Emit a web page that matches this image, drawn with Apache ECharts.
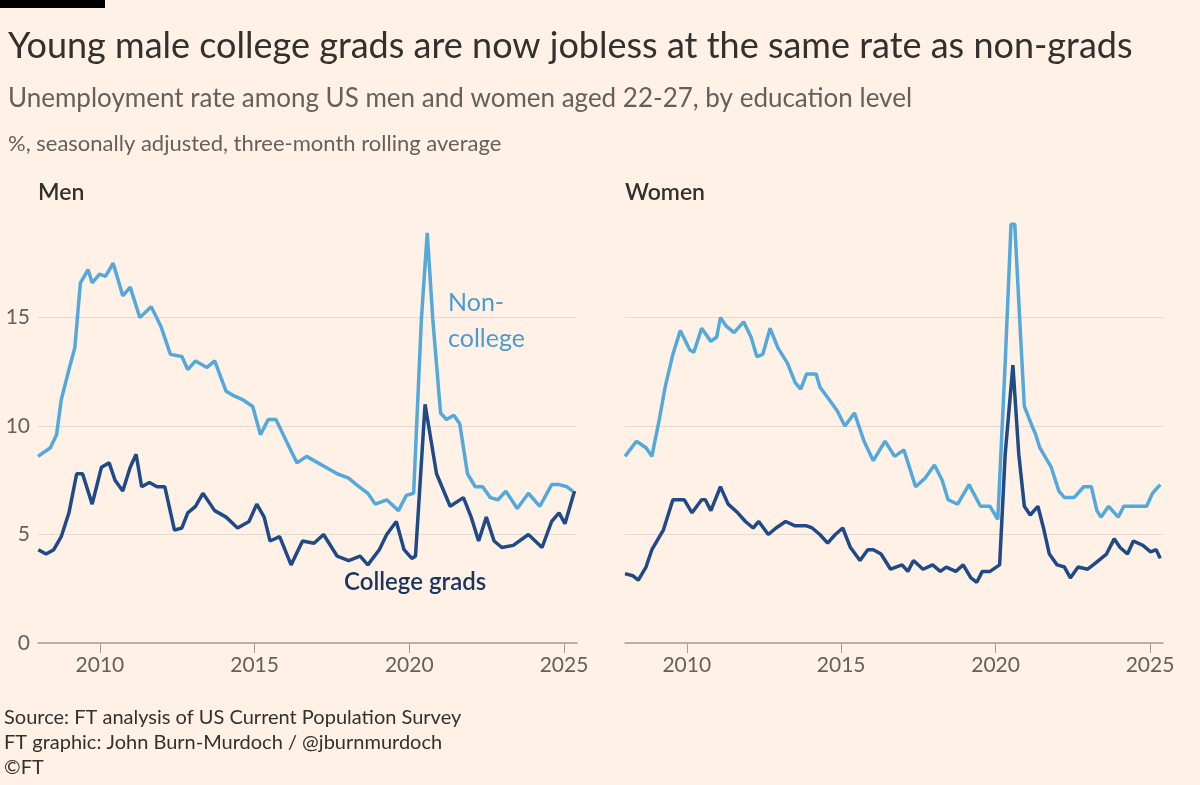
<!DOCTYPE html>
<html style="height: 100%">
<head>
    <meta charset="utf-8">
    <title>Young male college grads</title>
</head>
<body style="height: 100%; margin: 0; background: #fff1e5">
<div id="container" style="width: 1200px; height: 785px"></div>
<script type="text/javascript" src="https://cdn.jsdelivr.net/npm/echarts@6/dist/echarts.min.js"></script>
<script type="text/javascript">
    var myChart = echarts.init(document.getElementById('container'));

    // [decimal year, unemployment %]
    var menNonCollege = [[2008.0,8.6],[2008.4,9.0],[2008.6,9.6],[2008.75,11.2],[2009.0,12.6],[2009.19,13.6],[2009.37,16.6],[2009.62,17.2],[2009.75,16.6],[2009.99,17.0],[2010.18,16.9],[2010.43,17.5],[2010.74,16.0],[2010.98,16.4],[2011.29,15.0],[2011.66,15.5],[2011.97,14.6],[2012.28,13.3],[2012.65,13.2],[2012.84,12.6],[2013.09,13.0],[2013.46,12.7],[2013.71,13.0],[2014.08,11.6],[2014.32,11.4],[2014.63,11.2],[2014.94,10.9],[2015.19,9.6],[2015.44,10.3],[2015.69,10.3],[2016.06,9.2],[2016.37,8.3],[2016.68,8.6],[2017.05,8.3],[2017.3,8.1],[2017.67,7.8],[2018.04,7.6],[2018.29,7.3],[2018.66,6.9],[2018.9,6.4],[2019.27,6.6],[2019.65,6.1],[2019.9,6.8],[2020.14,6.9],[2020.39,14.9],[2020.58,18.9],[2020.76,14.9],[2021.01,10.6],[2021.2,10.3],[2021.44,10.5],[2021.63,10.1],[2021.88,7.8],[2022.13,7.2],[2022.37,7.2],[2022.62,6.7],[2022.87,6.6],[2023.12,7.0],[2023.49,6.2],[2023.85,6.9],[2024.22,6.3],[2024.6,7.3],[2024.85,7.3],[2025.1,7.2],[2025.28,7.0]];
    var menCollege = [[2008.01,4.3],[2008.26,4.1],[2008.51,4.3],[2008.75,4.9],[2009.0,6.0],[2009.25,7.8],[2009.44,7.8],[2009.75,6.4],[2010.05,8.1],[2010.3,8.3],[2010.49,7.5],[2010.74,7.0],[2010.98,8.1],[2011.17,8.7],[2011.35,7.2],[2011.6,7.4],[2011.85,7.2],[2012.1,7.2],[2012.41,5.2],[2012.65,5.3],[2012.84,6.0],[2013.09,6.3],[2013.33,6.9],[2013.71,6.1],[2014.08,5.8],[2014.45,5.3],[2014.82,5.6],[2015.07,6.4],[2015.31,5.8],[2015.5,4.7],[2015.81,4.9],[2016.18,3.6],[2016.55,4.7],[2016.92,4.6],[2017.23,5.0],[2017.67,4.0],[2018.04,3.8],[2018.41,4.0],[2018.66,3.6],[2019.03,4.3],[2019.27,5.0],[2019.58,5.6],[2019.83,4.3],[2020.08,3.9],[2020.2,4.0],[2020.51,11.0],[2020.88,7.8],[2021.32,6.3],[2021.75,6.7],[2022.0,5.8],[2022.24,4.7],[2022.49,5.8],[2022.74,4.7],[2022.99,4.4],[2023.36,4.5],[2023.85,5.0],[2024.29,4.4],[2024.6,5.6],[2024.84,6.0],[2025.03,5.5],[2025.34,7.0]];
    var womenNonCollege = [[2008.0,8.6],[2008.37,9.3],[2008.68,9.0],[2008.87,8.6],[2009.11,10.3],[2009.3,11.8],[2009.55,13.3],[2009.79,14.4],[2010.1,13.5],[2010.23,13.4],[2010.48,14.5],[2010.78,13.9],[2010.97,14.1],[2011.09,15.0],[2011.28,14.6],[2011.53,14.3],[2011.84,14.8],[2012.08,14.1],[2012.27,13.2],[2012.46,13.3],[2012.7,14.5],[2012.95,13.6],[2013.26,12.9],[2013.51,12.0],[2013.69,11.7],[2013.88,12.4],[2014.19,12.4],[2014.31,11.8],[2014.62,11.2],[2014.87,10.7],[2015.12,10.0],[2015.43,10.6],[2015.74,9.3],[2016.04,8.4],[2016.42,9.3],[2016.73,8.6],[2017.03,8.9],[2017.41,7.2],[2017.72,7.6],[2018.02,8.2],[2018.27,7.5],[2018.46,6.6],[2018.77,6.4],[2019.14,7.3],[2019.51,6.3],[2019.82,6.3],[2020.07,5.7],[2020.31,12.9],[2020.5,19.3],[2020.62,19.3],[2020.81,14.1],[2020.93,10.9],[2021.18,10.0],[2021.3,9.6],[2021.43,9.0],[2021.8,8.1],[2022.05,7.0],[2022.23,6.7],[2022.54,6.7],[2022.85,7.2],[2023.1,7.2],[2023.28,6.1],[2023.41,5.8],[2023.66,6.3],[2023.97,5.8],[2024.15,6.3],[2024.4,6.3],[2024.65,6.3],[2024.89,6.3],[2025.08,6.9],[2025.33,7.3]];
    var womenCollege = [[2008.0,3.2],[2008.25,3.1],[2008.43,2.9],[2008.68,3.5],[2008.87,4.3],[2009.24,5.2],[2009.55,6.6],[2009.73,6.6],[2009.92,6.6],[2010.17,6.0],[2010.48,6.6],[2010.6,6.6],[2010.78,6.1],[2011.09,7.2],[2011.34,6.4],[2011.65,6.0],[2011.9,5.6],[2012.15,5.3],[2012.33,5.6],[2012.64,5.0],[2012.89,5.3],[2013.2,5.6],[2013.51,5.4],[2013.88,5.4],[2014.06,5.3],[2014.31,5.0],[2014.56,4.6],[2014.81,5.0],[2015.05,5.3],[2015.3,4.4],[2015.61,3.8],[2015.86,4.3],[2016.04,4.3],[2016.29,4.1],[2016.6,3.4],[2016.97,3.6],[2017.16,3.3],[2017.34,3.8],[2017.65,3.4],[2017.96,3.6],[2018.21,3.3],[2018.4,3.5],[2018.71,3.3],[2018.95,3.6],[2019.2,3.0],[2019.39,2.8],[2019.57,3.3],[2019.82,3.3],[2020.13,3.6],[2020.31,8.7],[2020.56,12.8],[2020.75,8.7],[2020.93,6.3],[2021.12,5.9],[2021.37,6.3],[2021.55,5.3],[2021.74,4.1],[2021.99,3.6],[2022.23,3.5],[2022.42,3.0],[2022.67,3.5],[2022.98,3.4],[2023.16,3.6],[2023.59,4.1],[2023.84,4.8],[2024.03,4.4],[2024.27,4.1],[2024.46,4.7],[2024.77,4.5],[2025.02,4.2],[2025.2,4.3],[2025.33,3.9]];
    var yearTicks = [2010, 2015, 2020, 2025];

    var lightBlue = '#53a8dc';
    var darkBlue = '#1f4a87';
    var font = 'Lato';
    var grid = '#e3dbd2';

    function xAxis(i) {
        return {
            gridIndex: i, type: 'value', min: 2008, max: 2025.42,
            axisLine: { lineStyle: { color: '#a69f99', width: 1.5 } },
            axisTick: { show: true, customValues: yearTicks, length: 10, lineStyle: { color: '#a69f99' } },
            axisLabel: { customValues: yearTicks, formatter: function (v) { return String(v); },
                color: '#66605c', fontSize: 21, fontFamily: font, margin: 12 },
            splitLine: { show: false }
        };
    }
    function yAxis(i, labels) {
        return {
            gridIndex: i, type: 'value', min: 0, max: 20, interval: 5,
            axisLine: { show: false }, axisTick: { show: false },
            axisLabel: { show: labels, color: '#66605c', fontSize: 21, fontFamily: font, margin: 8, showMaxLabel: false },
            splitLine: { lineStyle: { color: [grid, grid, grid, grid, 'transparent'], width: 1.2 } }
        };
    }
    function line(i, data, color) {
        return { type: 'line', xAxisIndex: i, yAxisIndex: i, data: data, showSymbol: false,
            lineStyle: { color: color, width: 3.5 }, silent: true, z: color === darkBlue ? 3 : 2 };
    }

    var option = {
        backgroundColor: '#fff1e5',
        animation: false,
        grid: [
            { left: 38, width: 539, top: 209, bottom: 142 },
            { left: 625, width: 538, top: 209, bottom: 142 }
        ],
        xAxis: [xAxis(0), xAxis(1)],
        yAxis: [yAxis(0, true), yAxis(1, false)],
        series: [
            line(0, menNonCollege, lightBlue), line(0, menCollege, darkBlue),
            line(1, womenNonCollege, lightBlue), line(1, womenCollege, darkBlue)
        ],
        graphic: [
            { type: 'rect', shape: { x: 0, y: 0, width: 105, height: 8 }, style: { fill: '#000' } },
            { type: 'text', left: 8, top: 28, style: { text: 'Young male college grads are now jobless at the same rate as non-grads', fontSize: 36, fontFamily: font, fill: '#33302e' } },
            { type: 'text', left: 8, top: 86, style: { text: 'Unemployment rate among US men and women aged 22-27, by education level', fontSize: 26, fontFamily: font, fill: '#66605c' } },
            { type: 'text', left: 8, top: 133, style: { text: '%, seasonally adjusted, three-month rolling average', fontSize: 22, fontFamily: font, fill: '#66605c' } },
            { type: 'text', left: 38, top: 181, style: { text: 'Men', fontSize: 23, fontWeight: 600, fontFamily: font, fill: '#33302e' } },
            { type: 'text', left: 625, top: 181, style: { text: 'Women', fontSize: 23, fontWeight: 600, fontFamily: font, fill: '#33302e' } },
            { type: 'text', left: 448, top: 285, style: { text: 'Non-\ncollege', fontSize: 25, lineHeight: 36, fontFamily: font, fill: '#4b9bd0' } },
            { type: 'text', left: 344, top: 570, style: { text: 'College grads', fontSize: 24, fontWeight: 600, fontFamily: font, fill: '#1a355f' } },
            { type: 'text', left: 4, top: 705, style: { text: 'Source: FT analysis of US Current Population Survey\nFT graphic: John Burn-Murdoch / @jburnmurdoch\n©FT', fontSize: 20, lineHeight: 25, fontFamily: font, fill: '#33302e' } }
        ]
    };
    myChart.setOption(option);
</script>
</body>
</html>
